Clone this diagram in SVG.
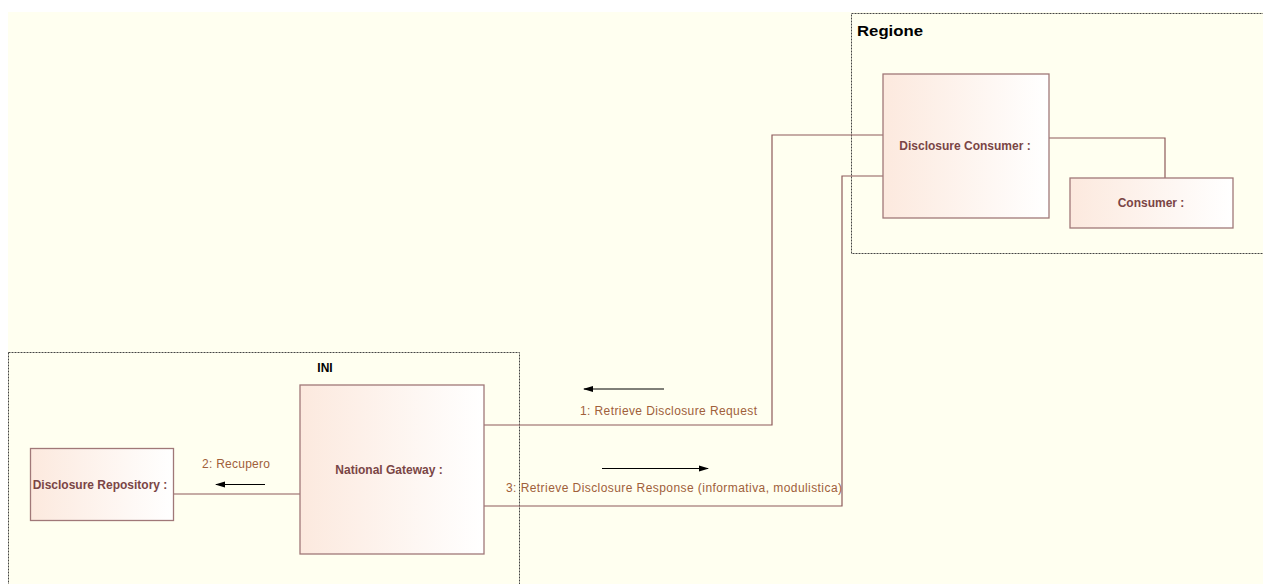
<svg xmlns="http://www.w3.org/2000/svg" width="1263" height="584" viewBox="0 0 1263 584">
<defs>
<linearGradient id="nodeFill" x1="0" y1="0" x2="1" y2="0">
<stop offset="0" stop-color="#FCE9DE"/>
<stop offset="1" stop-color="#FFFFFF"/>
</linearGradient>
<marker id="ah" markerWidth="10" markerHeight="8" refX="9" refY="4" orient="auto" markerUnits="userSpaceOnUse">
<path d="M0,1 L10,4 L0,7 Z" fill="#000"/>
</marker>
<style>
.frame{fill:none;stroke:#444;stroke-width:1;stroke-dasharray:2,1}
.node{fill:url(#nodeFill);stroke:#A07878;stroke-width:1.3}
.nlabel{font-family:"Liberation Sans",Arial,sans-serif;font-size:12px;font-weight:bold;fill:#7A4545;text-anchor:middle}
.conn{fill:none;stroke:#8E5A5A;stroke-width:1.2}
.mlabel{font-family:"Liberation Sans",Arial,sans-serif;font-size:12px;fill:#A0603A}
.marrow{stroke:#000;stroke-width:1;marker-end:url(#ah)}
.ftitle{font-family:"Liberation Sans",Arial,sans-serif;font-weight:bold;fill:#000}
</style>
</defs>
<rect x="0" y="0" width="1263" height="584" fill="#FFFFFF"/>
<rect x="8" y="12" width="1255" height="572" fill="#FFFFF0"/>

<g id="frame-regione">
<rect class="frame" x="851.5" y="13.5" width="420" height="240"/>
<text class="ftitle" x="857" y="36" font-size="15.5" textLength="66" lengthAdjust="spacingAndGlyphs">Regione</text>
</g>
<g id="frame-ini">
<rect class="frame" x="8.5" y="352.5" width="511" height="240"/>
<text class="ftitle" x="325" y="372" font-size="12" text-anchor="middle">INI</text>
</g>

<g id="connectors">
<polyline class="conn" points="1049,138 1165,138 1165,178"/>
<polyline class="conn" points="883,135 772,135 772,425 484,425"/>
<polyline class="conn" points="883,176 842,176 842,506 484,506"/>
<line class="conn" x1="173" y1="494" x2="300" y2="494"/>
<line class="marrow" x1="664" y1="389" x2="584" y2="389"/>
<text class="mlabel" x="580" y="415" textLength="177" lengthAdjust="spacing">1: Retrieve Disclosure Request</text>
<line class="marrow" x1="265" y1="484.5" x2="216" y2="484.5"/>
<text class="mlabel" x="202" y="468" textLength="68" lengthAdjust="spacing">2: Recupero</text>
<line class="marrow" x1="602" y1="468.5" x2="708" y2="468.5"/>
<text class="mlabel" x="506" y="492" textLength="336" lengthAdjust="spacing">3: Retrieve Disclosure Response (informativa, modulistica)</text>
</g>

<g id="node-disclosure-consumer">
<rect class="node" x="883" y="74" width="166" height="144"/>
<text class="nlabel" x="965" y="150">Disclosure Consumer :</text>
</g>
<g id="node-consumer">
<rect class="node" x="1070" y="178" width="163" height="50"/>
<text class="nlabel" x="1151" y="207">Consumer :</text>
</g>
<g id="node-national-gateway">
<rect class="node" x="300" y="385" width="184" height="169"/>
<text class="nlabel" x="389" y="474">National Gateway :</text>
</g>
<g id="node-disclosure-repository">
<rect class="node" x="30.5" y="448.5" width="143" height="72"/>
<text class="nlabel" x="100" y="489">Disclosure Repository :</text>
</g>
</svg>
